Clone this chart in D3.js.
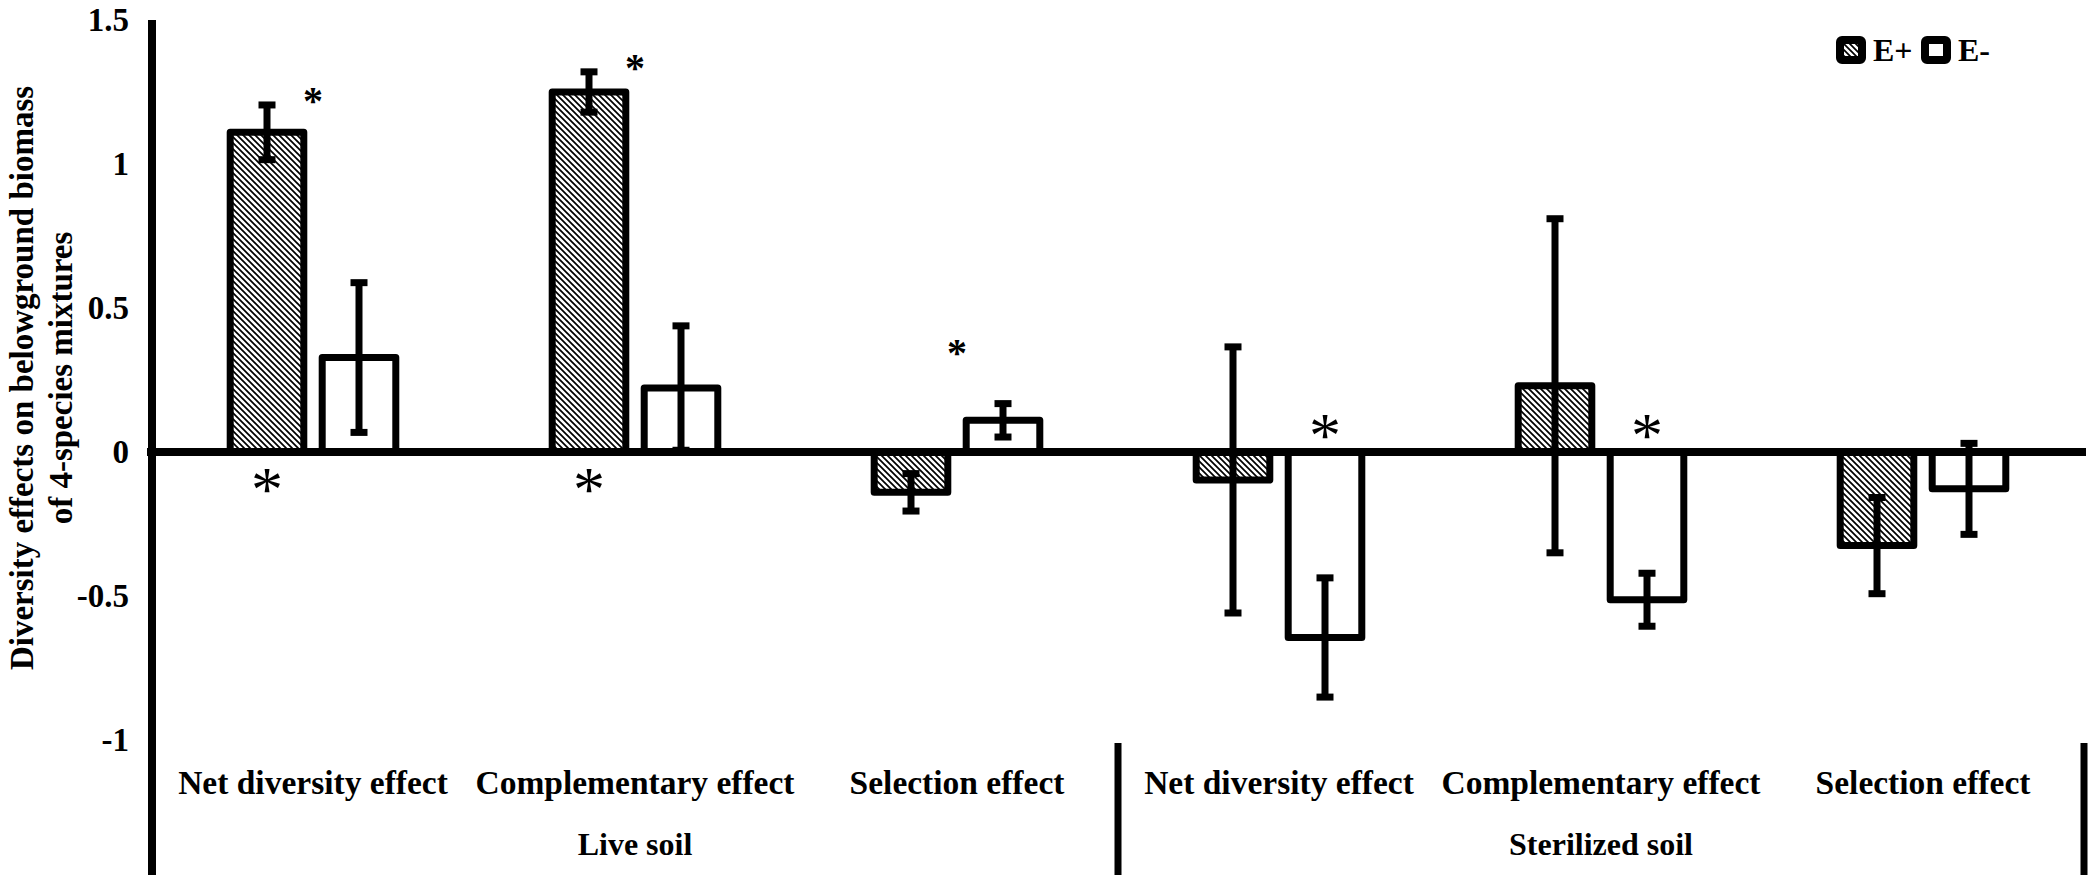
<!DOCTYPE html>
<html>
<head>
<meta charset="utf-8">
<script src="https://cdn.jsdelivr.net/npm/d3@7"></script>
<style>
  html, body { margin: 0; padding: 0; background: #fff; }
  svg text { font-family: "Liberation Serif", "Times New Roman", serif; fill: #000; }
</style>
</head>
<body>
<svg id="chart"></svg>
<script>
// Categories along the x axis, two soil groups of three effects each
const categories = ["Net diversity effect", "Complementary effect", "Selection effect",
                    "Net diversity effect", "Complementary effect", "Selection effect"];
const groups = ["Live soil", "Sterilized soil"];
const series = ["E+", "E-"];

// Bar values and error bar half-widths
const ePlus = [1.11, 1.25, -0.14, -0.097, 0.23, -0.325];
const ePlusErr = [0.095, 0.07, 0.065, 0.462, 0.58, 0.167];
const eMinus = [0.328, 0.222, 0.11, -0.644, -0.513, -0.128];
const eMinusErr = [0.26, 0.216, 0.058, 0.207, 0.092, 0.158];

// Significance marks: small bold stars above the category, large stars next to a bar
const starSmallAt = [1.24, 1.354, 0.365, null, null, null];
const starLargeSeries = ["E+", "E+", null, "E-", "E-", null];
const starLargeAt = [-0.1, -0.1, null, 0.087, 0.087, null];

const yTicks = [-1, -0.5, 0, 0.5, 1, 1.5];

const width = 2089;
const height = 880;

const svg = d3.select("#chart")
  .attr("width", width)
  .attr("height", height);

// hatch pattern for E+ bars
const defs = svg.append("defs");
const pat = defs.append("pattern")
  .attr("id", "hatch")
  .attr("patternUnits", "userSpaceOnUse")
  .attr("width", 6)
  .attr("height", 6);
pat.append("rect").attr("width", 6).attr("height", 6).attr("fill", "#fff");
pat.append("path")
  .attr("d", "M-1,-1 L7,7 M-4,2 L4,10 M2,-4 L10,4")
  .attr("stroke", "#000")
  .attr("stroke-width", 1.7);

const x0 = d3.scaleBand()
  .domain(d3.range(categories.length))
  .range([152, 2084]);

const bw = x0.bandwidth();
const x1 = d3.scaleBand()
  .domain(series)
  .range([bw / 2 - 92, bw / 2 + 92]);

const barW = x1.bandwidth() * 0.8;

const y = d3.scaleLinear()
  .domain([-1, 1.5])
  .range([740, 20]);

const rows = [];
categories.forEach((c, i) => {
  rows.push({ i, s: "E+", v: ePlus[i], e: ePlusErr[i] });
  rows.push({ i, s: "E-", v: eMinus[i], e: eMinusErr[i] });
});

const cx = d => x0(d.i) + x1(d.s) + x1.bandwidth() / 2;

// bars
svg.append("g").selectAll("rect")
  .data(rows)
  .join("rect")
  .attr("x", d => cx(d) - barW / 2)
  .attr("width", barW)
  .attr("y", d => y(Math.max(0, d.v)))
  .attr("height", d => Math.abs(y(d.v) - y(0)))
  .attr("fill", d => d.s === "E+" ? "url(#hatch)" : "#fff")
  .attr("stroke", "#000")
  .attr("stroke-width", 7)
  .attr("stroke-linejoin", "round");

// axes lines
svg.append("line")
  .attr("x1", 147).attr("x2", width - 3)
  .attr("y1", y(0)).attr("y2", y(0))
  .attr("stroke", "#000").attr("stroke-width", 8);

svg.append("line")
  .attr("x1", x0.range()[0]).attr("x2", x0.range()[0])
  .attr("y1", y(1.5)).attr("y2", 875)
  .attr("stroke", "#000").attr("stroke-width", 8);

// group separators below the plot
[x0(3), x0.range()[1]].forEach(px => {
  svg.append("line")
    .attr("x1", px).attr("x2", px)
    .attr("y1", 743).attr("y2", 875)
    .attr("stroke", "#000").attr("stroke-width", 7);
});

// error bars
const eb = svg.append("g").selectAll("g")
  .data(rows)
  .join("g")
  .attr("stroke", "#000")
  .attr("stroke-width", 7);

eb.append("line")
  .attr("x1", cx).attr("x2", cx)
  .attr("y1", d => y(d.v + d.e))
  .attr("y2", d => y(d.v - d.e));

[1, -1].forEach(sign => {
  eb.append("line")
    .attr("x1", d => cx(d) - 8.5)
    .attr("x2", d => cx(d) + 8.5)
    .attr("y1", d => y(d.v + sign * d.e))
    .attr("y2", d => y(d.v + sign * d.e));
});

// y axis labels
const yAxis = d3.axisLeft(y)
  .tickValues(yTicks)
  .tickSize(0)
  .tickPadding(23)
  .tickFormat(d => String(d));

svg.append("g")
  .attr("transform", `translate(${x0.range()[0]},0)`)
  .call(yAxis)
  .call(g => g.select(".domain").remove())
  .selectAll("text")
  .attr("font-family", "Liberation Serif, Times New Roman, serif")
  .attr("font-size", 33)
  .attr("font-weight", "bold")
  .attr("fill", "#000");

// y axis title
const title = svg.append("text")
  .attr("transform", "translate(0,378) rotate(-90)")
  .attr("text-anchor", "middle")
  .attr("font-size", 33)
  .attr("font-weight", "bold");
title.append("tspan").attr("x", 0).attr("y", 33).text("Diversity effects on belowground biomass");
title.append("tspan").attr("x", 0).attr("y", 72).text("of 4-species mixtures");

// category labels
svg.append("g").selectAll("text")
  .data(categories)
  .join("text")
  .attr("x", (d, i) => x0(i) + bw / 2)
  .attr("y", 794)
  .attr("text-anchor", "middle")
  .attr("font-size", 33.5)
  .attr("font-weight", "bold")
  .text(d => d);

// group labels
svg.append("g").selectAll("text")
  .data(groups)
  .join("text")
  .attr("x", (d, i) => x0(i * 3) + bw * 1.5)
  .attr("y", 855)
  .attr("text-anchor", "middle")
  .attr("font-size", 32)
  .attr("font-weight", "bold")
  .text(d => d);

// significance stars
svg.append("g").selectAll("text")
  .data(starSmallAt.map((v, i) => ({ v, i })).filter(d => d.v !== null))
  .join("text")
  .attr("x", d => x0(d.i) + bw / 2)
  .attr("y", d => y(d.v))
  .attr("dy", "0.47em")
  .attr("text-anchor", "middle")
  .attr("font-size", 40)
  .attr("font-weight", "bold")
  .text("*");

svg.append("g").selectAll("text")
  .data(starLargeAt.map((v, i) => ({ v, i, s: starLargeSeries[i] })).filter(d => d.v !== null))
  .join("text")
  .attr("x", d => cx(d))
  .attr("y", d => y(d.v))
  .attr("dy", "0.47em")
  .attr("text-anchor", "middle")
  .attr("font-size", 64)
  .text("*");

// legend
const legend = svg.append("g").attr("transform", "translate(1836,36)");
const legendX = [0, 85];
series.forEach((s, i) => {
  legend.append("rect")
    .attr("x", legendX[i] + 4).attr("y", 4)
    .attr("width", 22).attr("height", 20)
    .attr("rx", 2)
    .attr("fill", s === "E+" ? "url(#hatch)" : "#fff")
    .attr("stroke", "#000")
    .attr("stroke-width", 8);
  legend.append("text")
    .attr("x", legendX[i] + 37)
    .attr("y", 25)
    .attr("font-size", 32)
    .attr("font-weight", "bold")
    .text(s);
});
</script>
</body>
</html>
